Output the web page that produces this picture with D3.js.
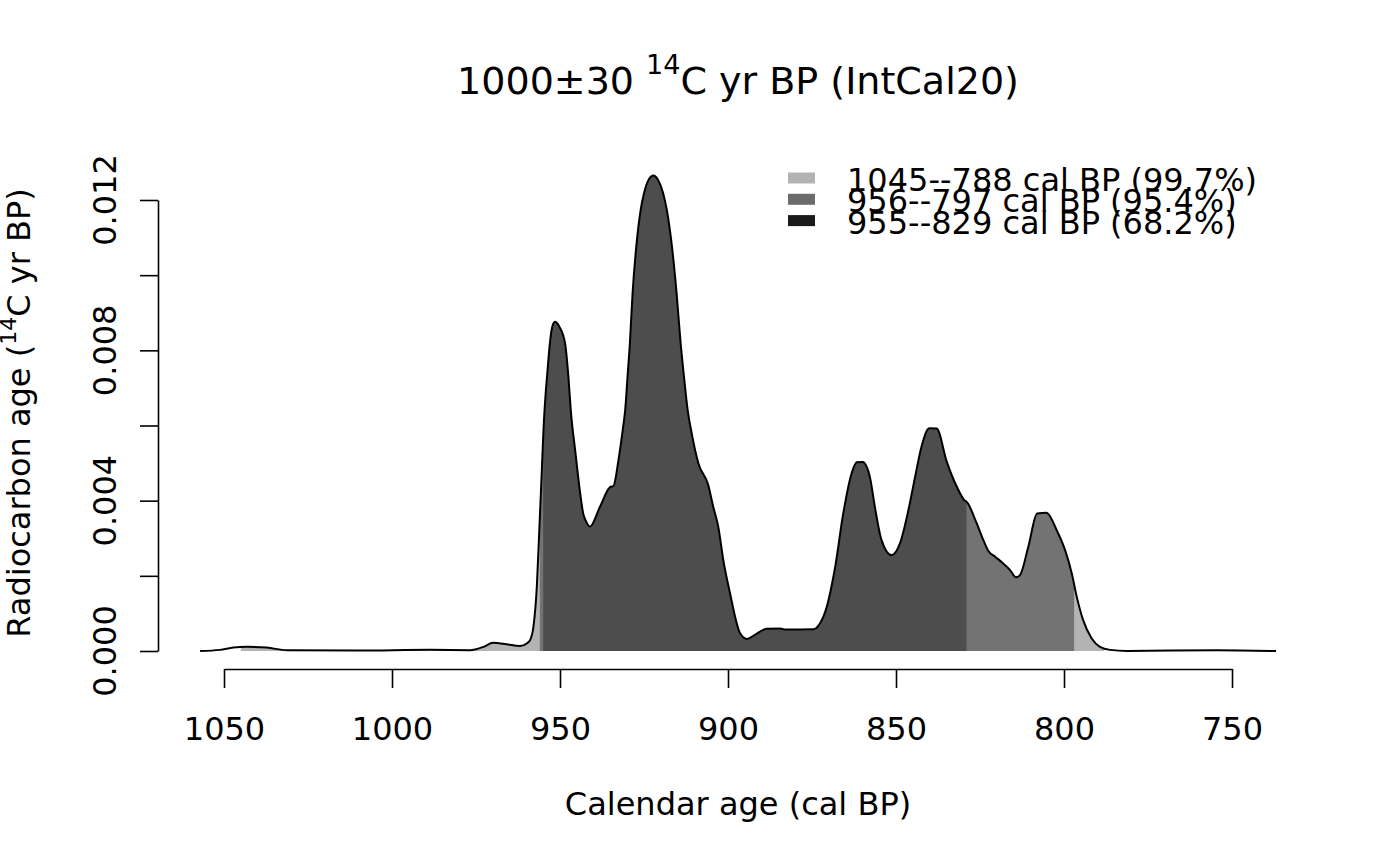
<!DOCTYPE html>
<html>
<head>
<meta charset="utf-8">
<script src="https://cdnjs.cloudflare.com/ajax/libs/d3/7.8.5/d3.min.js"></script>
<style>
  body { margin: 0; background: #fff; }
  svg { display: block; font-family: "DejaVu Sans", sans-serif; }
</style>
</head>
<body>
<div id="chart"></div>
<script>
// calibrated age (cal BP) and probability density
var calAge = [1057.1, 1051.2, 1047.2, 1043.2, 1037.3, 1031.3, 1010.5, 988.7, 976.8, 972.8,
  969.9, 965.9, 961.9, 959.9, 958.9, 957.9, 956.9, 956.2, 955.4, 954.85,
  954.3, 953.7, 953.0, 952.4, 951.5, 950.2, 948.5, 947.5, 946.8, 945.5,
  944.0, 943.1, 942.3, 941.1, 938.1, 935.1, 934.1, 932.6, 931.2, 930.6,
  929.9, 929.2, 928.4, 927.2, 926.0, 925.0, 923.8, 922.2, 920.8, 919.3,
  918.2, 916.8, 915.3, 914.1, 913.1, 912.0, 910.8, 908.8, 905.9, 904.4,
  902.9, 901.4, 899.4, 897.4, 896.4, 894.4, 892.0, 888.5, 884.5, 883.0,
  874.6, 872.6, 870.6, 868.1, 865.7, 863.2, 861.7, 859.9, 857.7, 856.3,
  854.3, 851.3, 848.8, 846.3, 844.3, 842.4, 840.1, 837.9, 834.9, 831.9,
  829.5, 829.0, 826.0, 824.0, 822.5, 820.5, 818.1, 816.1, 814.3, 813.1,
  810.6, 808.0, 805.2, 802.2, 799.7, 797.7, 796.2, 794.3, 791.8, 789.3,
  786.3, 781.3, 754.6, 736.9];
var density = [0, 0.00003, 0.00009, 0.00011, 0.00009, 0.00002, 0.00001, 0.00003, 0.00002, 0.00011,
  0.00022, 0.00018, 0.00013, 0.00020, 0.00029, 0.00065, 0.00171, 0.00313, 0.00482, 0.00601,
  0.00681, 0.00748, 0.00820, 0.00859, 0.00876, 0.00863, 0.00819, 0.00730, 0.00641, 0.00535,
  0.00420, 0.00366, 0.00346, 0.00331, 0.00384, 0.00436, 0.00439, 0.00508, 0.00597, 0.00641,
  0.00730, 0.00819, 0.00952, 0.01085, 0.01173, 0.01218, 0.01251, 0.01265, 0.01253, 0.01218,
  0.01173, 0.01085, 0.00952, 0.00819, 0.00730, 0.00641, 0.00579, 0.00499, 0.00442, 0.00384,
  0.00331, 0.00242, 0.00154, 0.00074, 0.00047, 0.00032, 0.00043, 0.00059, 0.00060, 0.00057,
  0.00058, 0.00074, 0.00118, 0.00224, 0.00366, 0.00473, 0.00502, 0.00503, 0.00460, 0.00384,
  0.00295, 0.00255, 0.00287, 0.00375, 0.00464, 0.00544, 0.00593, 0.00592, 0.00504, 0.00437,
  0.00400, 0.00397, 0.00340, 0.00295, 0.00266, 0.00251, 0.00233, 0.00216, 0.00196, 0.00202,
  0.00278, 0.00366, 0.00368, 0.00322, 0.00269, 0.00207, 0.00144, 0.00082, 0.00034, 0.00011,
  0.00003, 0, 0.00002, 0];

// highest posterior density ranges
var rangeFrom = [1045, 956, 955];
var rangeTo = [788, 797, 829];
var rangeProb = ["99.7%", "95.4%", "68.2%"];

var xTicks = [1050, 1000, 950, 900, 850, 800, 750];
var yTicks = [0, 0.002, 0.004, 0.006, 0.008, 0.010, 0.012];
var yTickLabels = [0, 0.004, 0.008, 0.012];

var shadeCol = ["#b3b3b3", "#737373", "#4d4d4d"];
var keyCol = ["#b3b3b3", "#6b6b6b", "#1a1a1a"];

var W = 1400, H = 866;
var fs = 32;

var svg = d3.select("#chart").append("svg")
    .attr("width", W)
    .attr("height", H);

var x = d3.scaleLinear().domain([1050, 750]).range([224, 1232]);
var y = d3.scaleLinear().domain([0, 0.012]).range([651, 200]);

var pts = calAge.map(function (a, i) { return {age: a, d: density[i]}; });

var area = d3.area()
    .x(function (d) { return x(d.age); })
    .y0(y(0))
    .y1(function (d) { return y(d.d); })
    .curve(d3.curveMonotoneX);

var line = d3.line()
    .x(function (d) { return x(d.age); })
    .y(function (d) { return y(d.d); })
    .curve(d3.curveMonotoneX);

var defs = svg.append("defs");

rangeFrom.forEach(function (from, i) {
    defs.append("clipPath")
        .attr("id", "hpd" + i)
        .append("rect")
        .attr("x", x(from))
        .attr("y", 0)
        .attr("width", x(rangeTo[i]) - x(from))
        .attr("height", H);

    svg.append("path")
        .datum(pts)
        .attr("d", area)
        .attr("fill", shadeCol[i])
        .attr("clip-path", "url(#hpd" + i + ")");
});

svg.append("path")
    .datum(pts)
    .attr("d", line)
    .attr("fill", "none")
    .attr("stroke", "#000")
    .attr("stroke-width", 2)
    .attr("stroke-linejoin", "round");

// x axis
var xAxis = svg.append("g")
    .attr("transform", "translate(0,669)")
    .call(d3.axisBottom(x)
        .tickValues(xTicks)
        .tickSize(19)
        .tickSizeOuter(0)
        .tickPadding(29)
        .tickFormat(d3.format("d")));

// y axis
var yAxis = svg.append("g")
    .attr("transform", "translate(158,0)")
    .call(d3.axisLeft(y)
        .tickValues(yTicks)
        .tickSize(18)
        .tickSizeOuter(0)
        .tickFormat(""));

[xAxis, yAxis].forEach(function (g) {
    g.selectAll("path, line").attr("stroke", "#000").attr("stroke-width", 1.6);
    g.selectAll("text")
        .attr("fill", "#000")
        .style("font-size", fs + "px")
        .style("font-family", "DejaVu Sans");
});

svg.selectAll(".ylab")
    .data(yTickLabels)
    .enter().append("text")
    .attr("class", "ylab")
    .attr("transform", function (d) { return "translate(116," + y(d) + ") rotate(-90)"; })
    .attr("text-anchor", "middle")
    .style("font-size", fs + "px")
    .text(function (d) { return d3.format(".3f")(d); });

// title
var title = svg.append("text")
    .attr("x", 738)
    .attr("y", 94)
    .attr("text-anchor", "middle")
    .style("font-size", "38px");
title.append("tspan").text("1000\u00b130 ");
title.append("tspan").attr("dy", -20).style("font-size", "27px").text("14");
title.append("tspan").attr("dy", 20).text("C yr BP (IntCal20)");

// axis titles
svg.append("text")
    .attr("x", 738)
    .attr("y", 815)
    .attr("text-anchor", "middle")
    .style("font-size", fs + "px")
    .text("Calendar age (cal BP)");

var ylab = svg.append("text")
    .attr("transform", "translate(30,413) rotate(-90)")
    .attr("text-anchor", "middle")
    .style("font-size", fs + "px");
ylab.append("tspan").text("Radiocarbon age (");
ylab.append("tspan").attr("dy", -14).style("font-size", "22px").text("14");
ylab.append("tspan").attr("dy", 14).text("C yr BP)");

// legend
var legend = svg.append("g");
rangeFrom.forEach(function (from, i) {
    var cy = 178 + i * 21.3;
    legend.append("rect")
        .attr("x", 788)
        .attr("y", cy - 5.5)
        .attr("width", 27)
        .attr("height", 11)
        .attr("fill", keyCol[i]);
    legend.append("text")
        .attr("x", 847)
        .attr("y", cy + 13)
        .style("font-size", fs + "px")
        .text(from + "--" + rangeTo[i] + " cal BP (" + rangeProb[i] + ")");
});
</script>
</body>
</html>
